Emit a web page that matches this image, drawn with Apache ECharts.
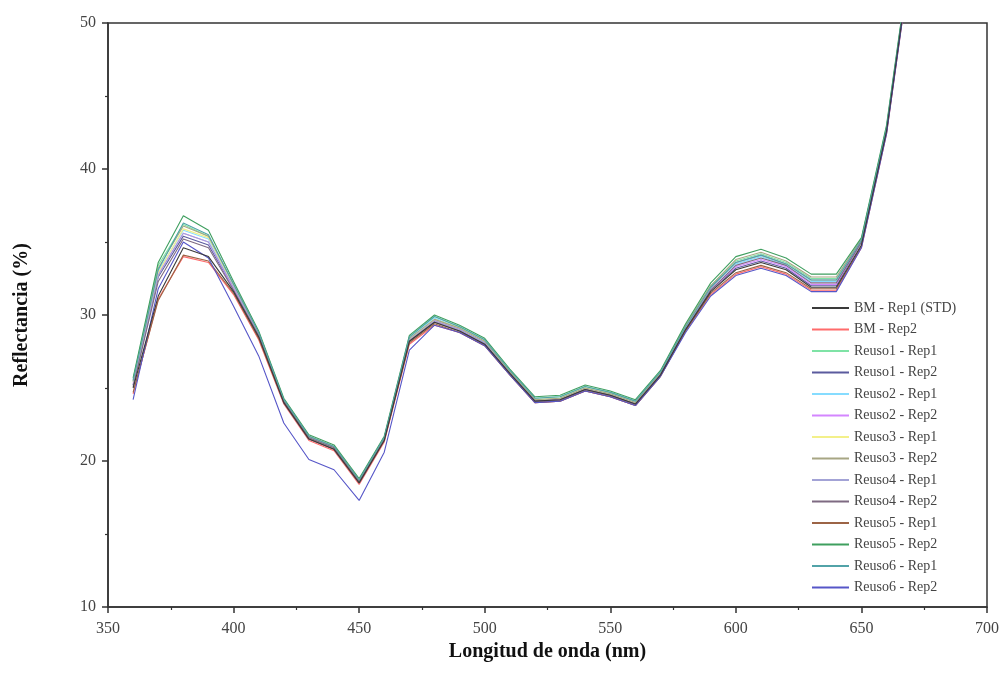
<!DOCTYPE html>
<html>
<head>
<meta charset="utf-8">
<script src="https://cdn.jsdelivr.net/npm/echarts@6/dist/echarts.min.js"></script>
<style>
  html, body { margin: 0; padding: 0; background: #fff; }
  #chart { width: 1008px; height: 689px; }
</style>
</head>
<body>
<div id="chart"></div>
<script>
// wavelengths (nm)
var wavelengths = [360, 370, 380, 390, 400, 410, 420, 430, 440, 450, 460, 470, 480, 490, 500, 510,
                   520, 530, 540, 550, 560, 570, 580, 590, 600, 610, 620, 630, 640, 650, 660, 670];

var seriesNames = [
  'BM - Rep1 (STD)', 'BM - Rep2',
  'Reuso1 - Rep1', 'Reuso1 - Rep2',
  'Reuso2 - Rep1', 'Reuso2 - Rep2',
  'Reuso3 - Rep1', 'Reuso3 - Rep2',
  'Reuso4 - Rep1', 'Reuso4 - Rep2',
  'Reuso5 - Rep1', 'Reuso5 - Rep2',
  'Reuso6 - Rep1', 'Reuso6 - Rep2'
];

var seriesColors = [
  '#3a3a3a', '#ff6b6b',
  '#7fe3a6', '#5b5b9e',
  '#86dcff', '#d486ff',
  '#f3f08a', '#a7a684',
  '#a3a3d6', '#7e6a82',
  '#9c6446', '#3f9f5f',
  '#52a3a8', '#5656c8'
];

// reflectance (%)
var bmRep1 = [25.0, 31.3, 34.6, 34.0, 31.6, 28.5, 24.0, 21.5, 20.8, 18.5, 21.4, 28.2, 29.5, 28.9, 28.0, 26.0,
              24.1, 24.2, 24.9, 24.5, 23.9, 25.9, 29.0, 31.6, 33.1, 33.6, 33.1, 31.9, 31.9, 34.8, 42.6, 55.0];
var bmRep2 = [24.6, 31.1, 34.0, 33.6, 31.4, 28.3, 23.9, 21.4, 20.7, 18.4, 21.3, 28.0, 29.3, 28.8, 27.9, 25.9,
              24.0, 24.1, 24.8, 24.4, 23.8, 25.8, 28.9, 31.4, 32.8, 33.3, 32.8, 31.7, 31.7, 34.6, 42.4, 54.8];
var reuso1Rep1 = [25.6, 33.4, 36.2, 35.4, 32.1, 28.8, 24.2, 21.7, 21.0, 18.7, 21.6, 28.5, 29.9, 29.2, 28.3, 26.2,
                  24.3, 24.4, 25.1, 24.7, 24.1, 26.1, 29.3, 32.0, 33.7, 34.2, 33.6, 32.5, 32.5, 35.2, 42.9, 55.2];
var reuso1Rep2 = [25.2, 32.6, 35.4, 34.8, 31.8, 28.6, 24.0, 21.6, 20.9, 18.6, 21.5, 28.3, 29.6, 29.0, 28.1, 26.0,
                  24.1, 24.2, 24.9, 24.5, 23.9, 25.9, 29.1, 31.7, 33.2, 33.7, 33.2, 32.0, 32.0, 35.0, 42.7, 55.1];
var reuso2Rep1 = [25.4, 33.0, 35.8, 35.2, 32.0, 28.7, 24.1, 21.6, 20.9, 18.6, 21.5, 28.4, 29.8, 29.1, 28.2, 26.1,
                  24.2, 24.3, 25.0, 24.6, 24.0, 26.0, 29.2, 31.9, 33.5, 34.0, 33.4, 32.3, 32.3, 35.1, 42.8, 55.1];
var reuso2Rep2 = [25.3, 32.8, 35.6, 35.0, 31.8, 28.6, 24.0, 21.5, 20.8, 18.5, 21.4, 28.2, 29.6, 29.0, 28.0, 26.0,
                  24.1, 24.2, 24.9, 24.5, 23.9, 25.9, 29.0, 31.7, 33.3, 33.8, 33.3, 32.1, 32.1, 35.0, 42.6, 55.0];
var reuso3Rep1 = [25.4, 32.9, 35.9, 35.3, 32.0, 28.7, 24.1, 21.6, 20.9, 18.6, 21.5, 28.3, 29.7, 29.1, 28.2, 26.1,
                  24.2, 24.3, 25.0, 24.6, 24.0, 26.0, 29.2, 31.9, 33.6, 34.1, 33.5, 32.4, 32.4, 35.1, 42.7, 55.1];
var reuso3Rep2 = [25.5, 33.2, 36.1, 35.4, 32.1, 28.8, 24.2, 21.7, 21.0, 18.7, 21.6, 28.4, 29.7, 29.1, 28.2, 26.1,
                  24.2, 24.3, 25.0, 24.6, 24.0, 26.0, 29.3, 32.0, 33.8, 34.3, 33.7, 32.6, 32.6, 35.2, 42.8, 55.1];
var reuso4Rep1 = [25.2, 32.7, 35.6, 35.0, 31.9, 28.7, 24.1, 21.6, 20.9, 18.6, 21.5, 28.3, 29.6, 29.0, 28.1, 26.0,
                  24.1, 24.2, 24.9, 24.5, 23.9, 25.9, 29.1, 31.8, 33.6, 34.1, 33.5, 32.4, 32.4, 35.1, 42.7, 55.0];
var reuso4Rep2 = [25.1, 32.3, 35.2, 34.6, 31.7, 28.6, 24.1, 21.6, 20.9, 18.6, 21.5, 28.2, 29.5, 28.9, 28.0, 26.0,
                  24.1, 24.2, 24.9, 24.5, 23.9, 25.9, 29.0, 31.7, 33.4, 33.9, 33.4, 32.2, 32.2, 35.0, 42.6, 55.0];
var reuso5Rep1 = [24.7, 31.0, 34.1, 33.7, 31.5, 28.4, 24.0, 21.5, 20.8, 18.5, 21.4, 28.1, 29.4, 28.8, 27.9, 25.9,
                  24.0, 24.1, 24.8, 24.4, 23.8, 25.8, 28.9, 31.5, 32.9, 33.4, 32.9, 31.8, 31.8, 34.7, 42.5, 54.9];
var reuso5Rep2 = [25.7, 33.6, 36.8, 35.8, 32.3, 28.9, 24.3, 21.8, 21.1, 18.8, 21.7, 28.6, 30.0, 29.3, 28.4, 26.3,
                  24.4, 24.5, 25.2, 24.8, 24.2, 26.2, 29.4, 32.2, 34.0, 34.5, 33.9, 32.8, 32.8, 35.3, 43.0, 55.3];
var reuso6Rep1 = [25.5, 33.1, 36.3, 35.5, 32.1, 28.8, 24.2, 21.7, 21.0, 18.7, 21.6, 28.5, 29.9, 29.2, 28.3, 26.2,
                  24.3, 24.4, 25.1, 24.7, 24.1, 26.1, 29.2, 31.9, 33.6, 34.1, 33.5, 32.4, 32.4, 35.1, 42.8, 55.1];
var reuso6Rep2 = [24.2, 31.8, 35.0, 33.9, 30.6, 27.2, 22.6, 20.1, 19.4, 17.3, 20.6, 27.6, 29.3, 28.8, 27.9, 25.9,
                  24.0, 24.1, 24.8, 24.4, 23.8, 25.8, 28.8, 31.3, 32.7, 33.2, 32.7, 31.6, 31.6, 34.6, 42.4, 54.8];

var allValues = [bmRep1, bmRep2, reuso1Rep1, reuso1Rep2, reuso2Rep1, reuso2Rep2, reuso3Rep1,
                 reuso3Rep2, reuso4Rep1, reuso4Rep2, reuso5Rep1, reuso5Rep2, reuso6Rep1, reuso6Rep2];

var xTicks = [350, 400, 450, 500, 550, 600, 650, 700];
var yTicks = [10, 20, 30, 40, 50];

var FONT = '"Liberation Serif", "DejaVu Serif", serif';

var chart = echarts.init(document.getElementById('chart'));

var series = allValues.map(function (vals, i) {
  return {
    name: seriesNames[i],
    type: 'line',
    data: wavelengths.map(function (w, j) { return [w, vals[j]]; }),
    showSymbol: false,
    symbol: 'none',
    clip: true,
    z: i === 0 ? 5 : 2,
    color: seriesColors[i],
    lineStyle: { width: 1.1, color: seriesColors[i] },
    itemStyle: { color: seriesColors[i] }
  };
});

chart.setOption({
  animation: false,
  backgroundColor: '#fff',
  color: seriesColors,
  grid: {
    left: 108, right: 21, top: 23, bottom: 82,
    show: true, borderColor: '#333', borderWidth: 1.5, backgroundColor: 'transparent'
  },
  legend: {
    orient: 'vertical',
    left: 806,
    top: 296,
    itemWidth: 37,
    itemHeight: 14,
    itemGap: 7.5,
    data: seriesNames,
    itemStyle: { opacity: 0 },
    textStyle: { fontFamily: FONT, fontSize: 14, color: '#444', lineHeight: 14 }
  },
  xAxis: {
    type: 'value',
    min: xTicks[0],
    max: xTicks[xTicks.length - 1],
    interval: 50,
    name: 'Longitud de onda (nm)',
    nameLocation: 'middle',
    nameGap: 31,
    nameTextStyle: { fontFamily: FONT, fontSize: 20, fontWeight: 'bold', color: '#111' },
    axisLine: { show: true, lineStyle: { color: '#333', width: 1.5 } },
    axisTick: { show: true, inside: false, length: 6, lineStyle: { color: '#333', width: 1.5 } },
    minorTick: { show: true, splitNumber: 2, length: 3, lineStyle: { color: '#333', width: 1.2 } },
    splitLine: { show: false },
    axisLabel: { fontFamily: FONT, fontSize: 16, color: '#444', margin: 14 }
  },
  yAxis: {
    type: 'value',
    min: yTicks[0],
    max: yTicks[yTicks.length - 1],
    interval: 10,
    name: 'Reflectancia (%)',
    nameLocation: 'middle',
    nameGap: 76,
    nameTextStyle: { fontFamily: FONT, fontSize: 20, fontWeight: 'bold', color: '#111' },
    axisLine: { show: true, lineStyle: { color: '#333', width: 1.5 } },
    axisTick: { show: true, inside: false, length: 6, lineStyle: { color: '#333', width: 1.5 } },
    minorTick: { show: true, splitNumber: 2, length: 3, lineStyle: { color: '#333', width: 1.2 } },
    splitLine: { show: false },
    axisLabel: { fontFamily: FONT, fontSize: 16, color: '#444', margin: 12 }
  },
  series: series
});
</script>
</body>
</html>
